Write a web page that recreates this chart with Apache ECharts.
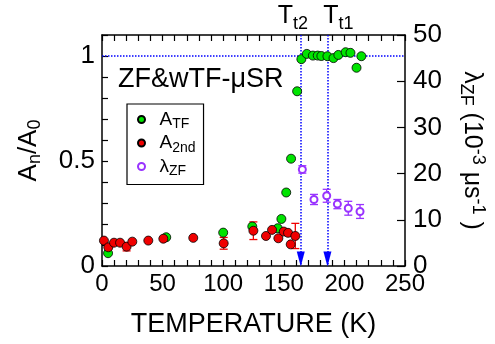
<!DOCTYPE html>
<html>
<head>
<meta charset="utf-8">
<script src="https://cdn.jsdelivr.net/npm/echarts@6/dist/echarts.min.js"></script>
<style>
  html, body { margin: 0; padding: 0; background: #fff; }
  #chart { width: 495px; height: 344px; }
</style>
</head>
<body>
<div id="chart"></div>
<script>
// A_TF (wTF asymmetry), left axis
const tfTemp = [5, 53, 100, 124, 145, 148, 152, 156, 161, 164.5, 169, 174, 178, 181, 186, 191, 195, 201, 205, 210, 214]
const tfAsym = [0.061, 0.137, 0.159, 0.188, 0.18, 0.224, 0.35, 0.511, 0.832, 0.985, 1.01, 1.002, 1.002, 1.0, 0.999, 0.99, 1.005, 1.018, 1.015, 0.944, 0.999]

// A_2nd, left axis
const redTemp = [1.6, 5.2, 9.9, 14.9, 20.3, 25, 38.2, 50.6, 75.3, 100.4, 124.9, 135.3, 140.3, 145.5, 150, 153.5, 155.7, 159.5]
const redAsym = [0.121, 0.089, 0.111, 0.111, 0.092, 0.116, 0.121, 0.13, 0.134, 0.108, 0.168, 0.143, 0.172, 0.132, 0.164, 0.158, 0.103, 0.143]
const redErr = [0, 0, 0, 0, 0.02, 0, 0, 0, 0, 0.028, 0.042, 0, 0, 0, 0, 0, 0, 0.06]

// lambda_ZF, right axis (10^-3 us^-1)
const zfTemp = [165.3, 174.9, 185.4, 194.2, 203.2, 212.9]
const zfLambda = [20.9, 14.4, 15.2, 13.4, 12.5, 11.8]
const zfErr = [0.8, 1.1, 1.4, 1.0, 1.5, 1.5]

// transition temperatures
const tt2 = 164
const tt1 = 186

const font = "Liberation Sans, Arial, Helvetica, sans-serif"
const GREEN = "#00e400"
const RED = "#f00000"
const PURPLE = "#9933ff"
const BLUE = "#0000ff"

const chart = echarts.init(document.getElementById("chart"))

function errorBars(name, temps, vals, errs, yIdx, color) {
  return {
    type: "custom",
    name: name,
    yAxisIndex: yIdx,
    silent: true,
    z: 1,
    data: temps.map((t, i) => [t, vals[i], errs[i]]),
    renderItem(params, api) {
      const x = api.value(0)
      const y = api.value(1)
      const e = api.value(2)
      if (!e) return
      const top = api.coord([x, y + e])
      const bot = api.coord([x, y - e])
      const cap = 4
      const style = { stroke: color, lineWidth: 1.3 }
      return {
        type: "group",
        children: [
          { type: "line", shape: { x1: top[0], y1: top[1], x2: bot[0], y2: bot[1] }, style },
          { type: "line", shape: { x1: top[0] - cap, y1: top[1], x2: top[0] + cap, y2: top[1] }, style },
          { type: "line", shape: { x1: bot[0] - cap, y1: bot[1], x2: bot[0] + cap, y2: bot[1] }, style },
        ],
      }
    },
  }
}

const legendRich = {
  a: { fontFamily: font, fontSize: 19, color: "#000", lineHeight: 20, verticalAlign: "middle" },
  s: { fontFamily: font, fontSize: 14, color: "#000", lineHeight: 20, verticalAlign: "bottom", padding: [0, 0, -2, 0] },
}

const tick = (len) => ({ show: true, inside: true, length: len, lineStyle: { color: "#000", width: 1.2 } })
const line = () => ({ show: true, onZero: false, lineStyle: { color: "#000", width: 1.5 } })

const option = {
  animation: false,
  backgroundColor: "#fff",
  title: {
    text: "ZF&wTF-μSR",
    left: 113,
    top: 61,
    textStyle: { fontFamily: font, fontSize: 27, fontWeight: "normal", color: "#000" },
  },
  grid: { left: 102, right: 90, top: 35, bottom: 78 },
  legend: {
    orient: "vertical",
    left: 127,
    top: 104,
    padding: [6, 8, 6, 10],
    itemGap: 2,
    itemWidth: 26,
    itemHeight: 7,
    borderColor: "#000",
    borderWidth: 1.2,
    data: ["ATF", "A2nd", "lZF"],
    formatter(name) {
      if (name === "ATF") return "{a|A}{s|TF}"
      if (name === "A2nd") return "{a|A}{s|2nd}"
      return "{a|λ}{s|ZF}"
    },
    textStyle: { rich: legendRich },
  },
  xAxis: [
    {
      type: "value",
      min: 0,
      max: 250,
      interval: 10,
      name: "TEMPERATURE (K)",
      nameLocation: "middle",
      nameGap: 45,
      nameTextStyle: { fontFamily: font, fontSize: 27, color: "#000" },
      axisLine: line(),
      axisTick: tick(6),
      axisLabel: {
        fontFamily: font,
        fontSize: 24,
        color: "#000",
        margin: 6,
        formatter: (v) => (v % 50 === 0 ? String(v) : ""),
      },
      splitLine: { show: false },
    },
    {
      type: "value",
      position: "top",
      min: 0,
      max: 250,
      interval: 10,
      axisLine: line(),
      axisTick: tick(6),
      axisLabel: { show: false },
      splitLine: { show: false },
    },
  ],
  yAxis: [
    {
      type: "value",
      min: 0,
      max: 1.1,
      interval: 0.1,
      name: "{a|A}{s|n}{a|/A}{s|0}",
      nameLocation: "middle",
      nameGap: 58,
      nameRotate: 90,
      nameTextStyle: {
        rich: {
          a: { fontFamily: font, fontSize: 26, color: "#000", lineHeight: 30, verticalAlign: "middle" },
          s: { fontFamily: font, fontSize: 18, color: "#000", lineHeight: 30, verticalAlign: "bottom" },
        },
      },
      axisLine: line(),
      axisTick: tick(6),
      axisLabel: {
        fontFamily: font,
        fontSize: 26,
        color: "#000",
        margin: 7,
        formatter: (v) => {
          if (Math.abs(v) < 1e-6) return "0"
          if (Math.abs(v - 0.5) < 1e-6) return "0.5"
          if (Math.abs(v - 1) < 1e-6) return "1"
          return ""
        },
      },
      splitLine: { show: false },
    },
    {
      type: "value",
      min: 0,
      max: 50,
      interval: 10,
      position: "right",
      alignTicks: false,
      name: "{a|λ}{s|ZF}{a| (10}{p|-3}{a| μs}{p|-1}{a| )}",
      nameLocation: "middle",
      nameGap: 52,
      nameRotate: -90,
      nameTextStyle: {
        rich: {
          a: { fontFamily: font, fontSize: 25, color: "#000", lineHeight: 30, verticalAlign: "middle" },
          s: { fontFamily: font, fontSize: 18, color: "#000", lineHeight: 30, verticalAlign: "bottom" },
          p: { fontFamily: font, fontSize: 18, color: "#000", lineHeight: 30, verticalAlign: "top" },
        },
      },
      axisLine: line(),
      axisTick: tick(8),
      axisLabel: { fontFamily: font, fontSize: 26, color: "#000", margin: 8 },
      splitLine: { show: false },
    },
  ],
  series: [
    {
      name: "ATF",
      type: "scatter",
      yAxisIndex: 0,
      symbol: "circle",
      symbolSize: 9,
      z: 3,
      itemStyle: { color: GREEN, borderColor: "#000", borderWidth: 0.8, opacity: 1 },
      data: tfTemp.map((t, i) => [t, tfAsym[i]]),
      markLine: {
        silent: true,
        z: 1,
        symbol: ["none", "triangle"],
        symbolSize: [8, 15],
        symbolOffset: [[0, 0], [0, 7]],
        label: { show: false },
        lineStyle: { color: BLUE, type: "dotted", width: 1.5, opacity: 1 },
        itemStyle: { color: BLUE },
        data: [
          [{ coord: [tt2, 1.1] }, { coord: [tt2, 0] }],
          [{ coord: [tt1, 1.1] }, { coord: [tt1, 0] }],
          [{ coord: [0, 1], symbol: "none" }, { coord: [250, 1], symbol: "none" }],
        ],
      },
    },
    errorBars("A2ndErr", redTemp, redAsym, redErr, 0, RED),
    {
      name: "A2nd",
      type: "scatter",
      yAxisIndex: 0,
      symbol: "circle",
      symbolSize: 9,
      z: 4,
      itemStyle: { color: RED, borderColor: "#000", borderWidth: 0.8, opacity: 1 },
      data: redTemp.map((t, i) => [t, redAsym[i]]),
    },
    errorBars("lZFErr", zfTemp, zfLambda, zfErr, 1, PURPLE),
    {
      name: "lZF",
      type: "scatter",
      yAxisIndex: 1,
      symbol: "emptyCircle",
      symbolSize: 7,
      z: 4,
      itemStyle: { color: PURPLE, borderColor: PURPLE, borderWidth: 1.2, opacity: 1 },
      data: zfTemp.map((t, i) => [t, zfLambda[i]]),
    },
  ],
}

chart.setOption(option)

// transition labels above the top axis
const ttRich = {
  a: { fontFamily: font, fontSize: 25, color: "#000", lineHeight: 28, verticalAlign: "middle" },
  s: { fontFamily: font, fontSize: 18, color: "#000", lineHeight: 28, verticalAlign: "bottom", padding: [0, 0, -3, 0] },
}
const x2 = chart.convertToPixel({ xAxisIndex: 0 }, tt2)
const x1 = chart.convertToPixel({ xAxisIndex: 0 }, tt1)
chart.setOption({
  graphic: [
    { type: "text", x: x2 - 8, y: 2, style: { text: "{a|T}{s|t2}", rich: ttRich, align: "center", verticalAlign: "top" } },
    { type: "text", x: x1 + 11, y: 2, style: { text: "{a|T}{s|t1}", rich: ttRich, align: "center", verticalAlign: "top" } },
  ],
})
</script>
</body>
</html>
